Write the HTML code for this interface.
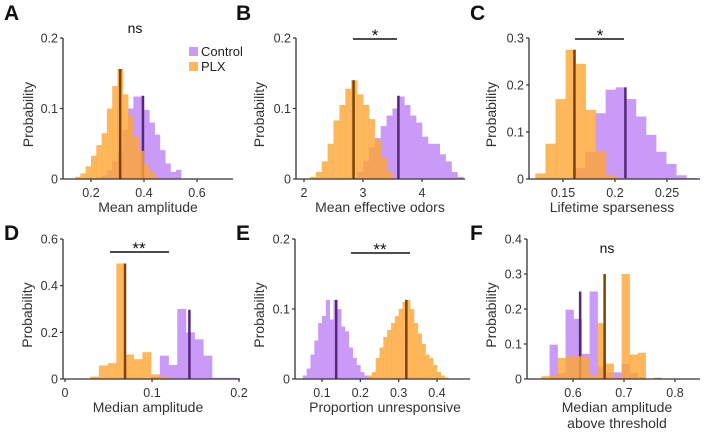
<!DOCTYPE html>
<html><head><meta charset="utf-8">
<style>
body{margin:0;background:#fff;}
svg{display:block;font-family:"Liberation Sans",Arial,sans-serif;}
.tick{font-size:12.5px;fill:#333;}
.lab{font-size:14px;fill:#333;}
.pl{font-size:21px;font-weight:bold;fill:#111;}
</style></head>
<body>
<svg id="fig" width="706" height="445" viewBox="0 0 706 445"></svg>
<script>
// ---- Data (bin starts, bin widths, heights, medians) ----
const aCtrlStart = 0.22, aPlxStart = 0.14, aBin = 0.02;
const aCtrl = [0.002,0.005,0.012,0.025,0.04,0.07,0.1,0.117,0.117,0.098,0.08,0.063,0.041,0.022,0.01,0.013];
const aPlx = [0.003,0.008,0.018,0.033,0.048,0.065,0.1,0.132,0.156,0.12,0.09,0.06,0.04,0.02,0.01,0.003];
const aMed = [0.396, 0.310]; const aMedH = [0.118, 0.156];

const bCtrlStart = 2.8, bPlxStart = 2.1, bBin = 0.1;
const bCtrl = [0.002,0.01,0.025,0.045,0.058,0.075,0.09,0.1,0.117,0.105,0.09,0.08,0.06,0.05,0.05,0.035,0.025,0.01,0.003];
const bPlx = [0.003,0.01,0.025,0.05,0.083,0.105,0.128,0.14,0.12,0.105,0.085,0.055,0.03,0.01];
const bMed = [3.6, 2.84]; const bMedH = [0.118, 0.14];

const cCtrlStart = 0.1619, cPlxStart = 0.1234, cBin = 0.0097;
const cCtrl = [0.023,0.058,0.14,0.19,0.195,0.17,0.133,0.094,0.058,0.032,0.008,0.002];
const cPlx = [0.012,0.075,0.17,0.275,0.245,0.147,0.058,0.008,0.002];
const cMed = [0.21, 0.161]; const cMedH = [0.195, 0.275];

const dCtrlStart = 0.099, dPlxStart = 0.019, dBin = 0.01;
const dCtrl = [0.01,0.1,0.06,0.3,0.2,0.17,0.1,0.005,0.005,0.005];
const dPlx = [0.002,0.01,0.058,0.068,0.495,0.105,0.085,0.115,0.02,0.01];
const dMed = [0.143, 0.069]; const dMedH = [0.297, 0.495];

const eCtrlStart = 0.05, ePlxStart = 0.22, eBin = 0.01;
const eCtrl = [0.005,0.015,0.035,0.055,0.08,0.09,0.113,0.085,0.113,0.1,0.075,0.068,0.045,0.03,0.02,0.01,0.005,0.003];
const ePlx = [0.005,0.01,0.03,0.045,0.06,0.07,0.08,0.09,0.1,0.11,0.113,0.1,0.08,0.065,0.05,0.035,0.03,0.02,0.01,0.005,0.002];
const eMed = [0.137, 0.32]; const eMedH = [0.113, 0.113];

const fCtrlStart = 0.554, fPlxStart = 0.5383, fBin = 0.0157;
const fCtrl = [0.098,0.017,0.198,0.172,0.072,0.25,0.035,0.019,0.019,0.043,0.017,0.005];
const fPlx = [0.008,0.01,0.06,0.065,0.065,0.063,0.01,0.16,0.044,0.005,0.3,0.07,0.075,0,0.004];
const fMed = [0.614, 0.662]; const fMedH = [0.25, 0.3];

const tickA = [0.2,0.4,0.6], yTickA = [0,0.1,0.2];
const tickB = [2,3,4], yTickB = [0,0.1,0.2];
const tickC = [0.15,0.2,0.25], yTickC = [0,0.1,0.2,0.3];
const tickD = [0,0.1,0.2], yTickD = [0,0.2,0.4,0.6];
const tickE = [0.1,0.2,0.3,0.4], yTickE = [0,0.1,0.2];
const tickF = [0.6,0.7,0.8], yTickF = [0,0.1,0.2,0.3,0.4];

const NS = "http://www.w3.org/2000/svg";
const svg = document.getElementById('fig');
function mk(tag, attrs, parent, text){
  const e = document.createElementNS(NS, tag);
  for (const k in attrs) e.setAttribute(k, attrs[k]);
  if (text !== undefined) e.textContent = text;
  (parent || svg).appendChild(e);
  return e;
}
const CCOL = '#c99af7', PCOL = 'rgb(255,165,50)', CLINE = '#55287a', PLINE = '#7a4300';

function panel(id, P, ctrl, cStart, plx, pStart, bin, med, medH, xt, yt, xlabel) {
  const g = mk('g', {});
  
  
  const xs = v => P.x0 + (v - P.v0) * (P.x1 - P.x0) / (P.v1 - P.v0);
  const ys = v => P.yb - v * (P.yb - P.yt) / P.ymax;
  // control bars
  ctrl.forEach((h, i) => {
    const a = xs(cStart + i * bin), b = xs(cStart + (i + 1) * bin);
    const r = mk('rect', {x:a, y:ys(h), width:b - a + 0.3, height:ys(0) - ys(h), fill:CCOL}, g);
    
    
  });
  const cl = mk('line', {x1:xs(med[0]), x2:xs(med[0]), y1:ys(0), y2:ys(medH[0]), stroke:CLINE, 'stroke-width':2.5}, g);
  
  
  plx.forEach((h, i) => {
    const a = xs(pStart + i * bin), b = xs(pStart + (i + 1) * bin);
    const r = mk('rect', {x:a, y:ys(h), width:b - a + 0.3, height:ys(0) - ys(h), fill:PCOL, 'fill-opacity':0.8}, g);
    
    
  });
  const pl = mk('line', {x1:xs(med[1]), x2:xs(med[1]), y1:ys(0), y2:ys(medH[1]), stroke:PLINE, 'stroke-width':2.5}, g);
  
  
  // axes
  const ax = mk('path', {d:`M${P.ax0},${ys(0)}H${P.ax1}M${P.ax0},${ys(0)}V${P.yt}`, stroke:'#333', 'stroke-width':1.3, fill:'none'}, g);
  
  
  xt.forEach(v => {
    mk('line', {x1:xs(v), x2:xs(v), y1:ys(0), y2:ys(0) + 3, stroke:'#333', 'stroke-width':1.2}, g);
    const t = mk('text', {x:xs(v), y:ys(0) + 18, 'text-anchor':'middle', class:'tick'}, g, String(v));
    
    
  });
  yt.forEach(v => {
    mk('line', {x1:P.ax0 - 3, x2:P.ax0, y1:ys(v), y2:ys(v), stroke:'#333', 'stroke-width':1.2}, g);
    const t = mk('text', {x:P.ax0 - 5, y:ys(v) + 4.5, 'text-anchor':'end', class:'tick'}, g, String(v));
    
    
  });
  const yc = (P.yb + P.yt) / 2 + 6;
  const yl = mk('text', {x:0, y:0, transform:`translate(${P.ylx},${yc}) rotate(-90)`, 'text-anchor':'middle', class:'lab'}, g, 'Probability');
  
  
  xlabel.forEach((s, i) => {
    const xl = mk('text', {x:P.xlx, y:P.yb + 33 + i * 16, 'text-anchor':'middle', class:'lab'}, g, s);
    
    
  });
  const L = mk('text', {x:P.lx, y:P.ly, class:'pl'}, g, id);
  
  
  return g;
}
function sig(x1, x2, y, txt, tx, ty) {
  if (x1 !== null) {
    const l = mk('line', {x1:x1, x2:x2, y1:y, y2:y, stroke:'#111', 'stroke-width':1.5});
    
    
  }
  const t = mk('text', {x:tx, y:ty, 'text-anchor':'middle', 'font-size':txt === 'ns' ? 14 : 17, fill:'#111'}, svg, txt);
  
  
}

panel('A', {x0:91,v0:0.2,x1:144,v1:0.4,yb:179,yt:38,ymax:0.2,ax0:63,ax1:233,ylx:33,xlx:148,lx:4,ly:20}, aCtrl, aCtrlStart, aPlx, aPlxStart, aBin, aMed, aMedH, tickA, yTickA, ['Mean amplitude']);
panel('B', {x0:304,v0:2,x1:363,v1:3,yb:179,yt:38,ymax:0.2,ax0:296,ax1:465,ylx:264,xlx:380,lx:236,ly:20}, bCtrl, bCtrlStart, bPlx, bPlxStart, bBin, bMed, bMedH, tickB, yTickB, ['Mean effective odors']);
panel('C', {x0:563,v0:0.15,x1:615,v1:0.2,yb:179,yt:38,ymax:0.3,ax0:529,ax1:700,ylx:496,xlx:612,lx:470,ly:20}, cCtrl, cCtrlStart, cPlx, cPlxStart, cBin, cMed, cMedH, tickC, yTickC, ['Lifetime sparseness']);
panel('D', {x0:65,v0:0,x1:152,v1:0.1,yb:379,yt:239,ymax:0.6,ax0:63,ax1:240,ylx:32,xlx:148,lx:4,ly:240}, dCtrl, dCtrlStart, dPlx, dPlxStart, dBin, dMed, dMedH, tickD, yTickD, ['Median amplitude']);
panel('E', {x0:322,v0:0.1,x1:437,v1:0.4,yb:379,yt:239,ymax:0.2,ax0:295,ax1:470,ylx:264,xlx:385,lx:236,ly:240}, eCtrl, eCtrlStart, ePlx, ePlxStart, eBin, eMed, eMedH, tickE, yTickE, ['Proportion unresponsive']);
panel('F', {x0:573,v0:0.6,x1:624,v1:0.7,yb:379,yt:239,ymax:0.4,ax0:527,ax1:700,ylx:496,xlx:617,lx:470,ly:240}, fCtrl, fCtrlStart, fPlx, fPlxStart, fBin, fMed, fMedH, tickF, yTickF, ['Median amplitude','above threshold']);

sig(null, null, 0, 'ns', 135, 33);
sig(353, 397, 39, '*', 375, 41);
sig(575, 624, 39, '*', 600, 41);
sig(110, 169, 252, '**', 139, 254);
sig(351, 410, 253, '**', 380, 255);
sig(null, null, 0, 'ns', 607, 253);

// legend
const lg = mk('g', {});


const s1 = mk('rect', {x:189, y:47, width:9, height:9, fill:CCOL}, lg);


const t1 = mk('text', {x:201, y:56, 'font-size':13, fill:'#222'}, lg, 'Control');


const s2 = mk('rect', {x:189, y:62, width:9, height:9, fill:PCOL, 'fill-opacity':0.8}, lg);


const t2 = mk('text', {x:201, y:71, 'font-size':13, fill:'#222'}, lg, 'PLX');


</script>
</body></html>
